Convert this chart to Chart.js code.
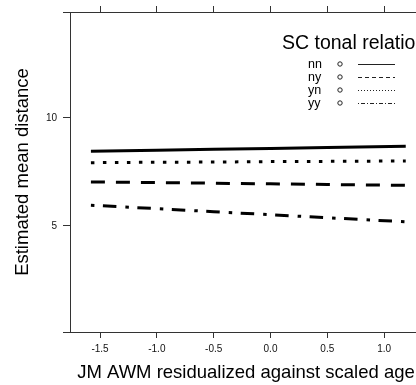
<!DOCTYPE html>
<html>
<head>
<meta charset="utf-8">
<script src="https://cdn.jsdelivr.net/npm/chart.js@4.4.1/dist/chart.umd.min.js"></script>
<style>
  html, body { margin: 0; padding: 0; background: #fff; overflow: hidden; }
  #wrap { width: 416px; height: 385px; overflow: hidden; position: relative; }
  canvas { display: block; }
</style>
</head>
<body>
<div id="wrap"><canvas id="c" width="440" height="385" style="width:440px;height:385px"></canvas></div>
<script>
// ---- data ----
const categories = ['nn', 'ny', 'yn', 'yy'];
const xValues = [-1.58, -1.0, -0.5, 0.0, 0.5, 1.19];
const nnValues = [8.46, 8.51, 8.55, 8.59, 8.63, 8.69];
const nyValues = [7.04, 7.01, 6.98, 6.95, 6.92, 6.88];
const ynValues = [7.93, 7.95, 7.96, 7.98, 7.99, 8.01];
const yyValues = [5.96, 5.80, 5.66, 5.52, 5.38, 5.19];
const xTicks = [-1.5, -1.0, -0.5, 0.0, 0.5, 1.0];
const yTicks = [5, 10];
const legendTitle = 'SC tonal relation';
const xTitle = 'JM AWM residualized against scaled age';
const yTitle = 'Estimated mean distance';

const seriesValues = [nnValues, nyValues, ynValues, yyValues];
const dashes = [[], [14, 11], [3.5, 8.5], [3.5, 8.5, 13.5, 9]];
const legendDashes = [[], [4, 3], [1, 2], [1, 2, 4, 2]];

const FAM = '"Liberation Sans", Arial, sans-serif';
const AXC = '#333';

const datasets = categories.map((c, i) => ({
  label: c,
  data: xValues.map((x, j) => ({ x: x, y: seriesValues[i][j] })),
  borderColor: '#000',
  backgroundColor: '#000',
  borderWidth: 3,
  borderDash: dashes[i],
  borderCapStyle: 'butt',
  pointRadius: 0,
  tension: 0,
  fill: false,
  legendDash: legendDashes[i]
}));

const boxPlugin = {
  id: 'box',
  afterDraw(chart) {
    const ctx = chart.ctx, ca = chart.chartArea;
    ctx.save();
    ctx.strokeStyle = AXC;
    ctx.lineWidth = 1;
    ctx.beginPath();
    const t = Math.round(ca.top) + 0.5, b = Math.round(ca.bottom) + 0.5, l = Math.round(ca.left) + 0.5;
    ctx.moveTo(ca.left - 7, t); ctx.lineTo(chart.width, t);
    ctx.moveTo(ca.left - 7, b); ctx.lineTo(chart.width, b);
    ctx.moveTo(l, ca.top); ctx.lineTo(l, ca.bottom);
    ctx.moveTo(Math.round(ca.right) + 0.5, ca.top); ctx.lineTo(Math.round(ca.right) + 0.5, ca.bottom);
    ctx.stroke();
    ctx.restore();
  }
};

const keyPlugin = {
  id: 'key',
  afterDraw(chart) {
    const ctx = chart.ctx;
    ctx.save();
    ctx.fillStyle = '#000';
    ctx.textBaseline = 'middle';
    ctx.textAlign = 'left';
    ctx.font = '19.5px ' + FAM;
    ctx.fillText(legendTitle, 282, 44);
    ctx.font = '12.5px "Liberation Sans Narrow", ' + FAM;
    chart.data.datasets.forEach((ds, i) => {
      const y = 65 + i * 13;
      ctx.fillStyle = '#000';
      ctx.fillText(ds.label, 308, y);
      ctx.beginPath();
      ctx.strokeStyle = '#222';
      ctx.lineWidth = 1;
      ctx.setLineDash([]);
      ctx.arc(340, y - 1, 2.2, 0, Math.PI * 2);
      ctx.stroke();
      ctx.beginPath();
      ctx.setLineDash(ds.legendDash);
      ctx.moveTo(358, Math.round(y - 1) + 0.5);
      ctx.lineTo(395, Math.round(y - 1) + 0.5);
      ctx.stroke();
    });
    ctx.restore();
  }
};

new Chart(document.getElementById('c'), {
  type: 'line',
  data: { datasets: datasets },
  plugins: [boxPlugin, keyPlugin],
  options: {
    responsive: false,
    animation: false,
    devicePixelRatio: 1,
    parsing: true,
    layout: { padding: { left: 0, right: 18, top: 0, bottom: 0 } },
    plugins: { legend: { display: false }, tooltip: { enabled: false } },
    scales: {
      x: {
        type: 'linear', position: 'bottom',
        min: -1.764, max: 1.333,
        afterBuildTicks: s => { s.ticks = xTicks.map(v => ({ value: v })); },
        afterFit: s => { s.height = 53; },
        grid: { drawOnChartArea: false, drawTicks: true, tickLength: 6, color: AXC, lineWidth: 1 },
        border: { display: false },
        ticks: { font: { size: 10, family: FAM }, color: '#111', padding: 5, maxRotation: 0, autoSkip: false,
                 callback: v => Number(v).toFixed(1) },
        title: { display: true, text: xTitle, color: '#000', font: { size: 18.5, family: FAM }, padding: { top: 0, bottom: 1 } }
      },
      x2: {
        type: 'linear', position: 'top', axis: 'x',
        min: -1.764, max: 1.333,
        afterBuildTicks: s => { s.ticks = xTicks.map(v => ({ value: v })); },
        afterFit: s => { s.height = 10; },
        grid: { drawOnChartArea: false, drawTicks: true, tickLength: 6, color: AXC, lineWidth: 1 },
        border: { display: false },
        ticks: { display: false }
      },
      y: {
        type: 'linear', position: 'left',
        min: 0.087, max: 14.91,
        afterBuildTicks: s => { s.ticks = yTicks.map(v => ({ value: v })); },
        afterFit: s => { s.width = 70; },
        grid: { drawOnChartArea: false, drawTicks: true, tickLength: 7, color: AXC, lineWidth: 1 },
        border: { display: false },
        ticks: { font: { size: 10, family: FAM }, color: '#111', padding: 6, callback: v => String(v) },
        title: { display: true, text: yTitle, color: '#000', font: { size: 18.5, family: FAM }, padding: { top: 12, bottom: 0 } }
      }
    }
  }
});
</script>
</body>
</html>
